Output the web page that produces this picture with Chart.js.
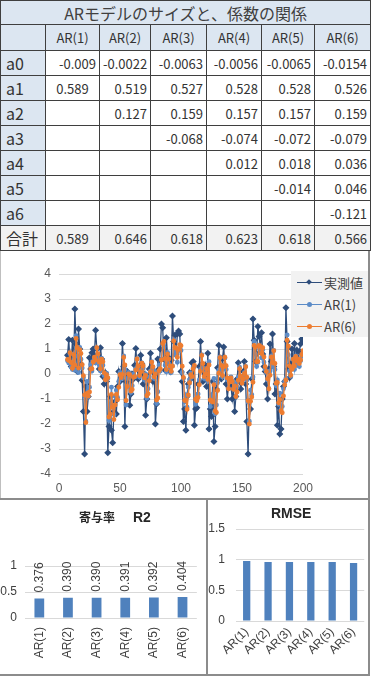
<!DOCTYPE html>
<html lang="ja">
<head>
<meta charset="UTF-8">
<title>ARモデルのサイズと、係数の関係</title>
<script src="https://cdn.jsdelivr.net/npm/chart.js"></script>
<style>
    html, body { margin: 0; padding: 0; background: #fff; }
    body { width: 371px; height: 676px; position: relative; overflow: hidden; }
    .abs { position: absolute; box-sizing: border-box; }
    #coefTable {
        position: absolute; left: 0; top: 0;
        width: 370px; border-collapse: collapse; table-layout: fixed;
        font-family: "Noto Sans CJK JP", sans-serif; color: #333;
    }
    #coefTable td {
        border: 1px solid #3f3f3f; padding: 0 3px; font-size: 13px;
        text-align: right; line-height: 1; white-space: nowrap; overflow: hidden;
    }
    #coefTable td.title { background: #dce6f1; text-align: center; font-size: 16px; color: #404040; }
    #coefTable td.head { background: #dce6f1; text-align: center; }
    #coefTable td.rowname { background: #dce6f1; text-align: left; padding-left: 5px; font-size: 16px; }
    #coefTable tr.total td { background: #f2f2f2; }
    #coefTable td.mid { text-align: center; }
    #legend {
        position: absolute; left: 291px; top: 271px; width: 77px; height: 66px;
        background: #f2f2f2; font-family: "Noto Sans CJK JP", sans-serif; font-size: 13px; color: #404040;
    }
    .item { position: absolute; left: 0; height: 22px; width: 77px; }
    .item .ln { position: absolute; left: 6px; top: 10px; width: 25px; height: 0; border-top: 1.5px solid; }
    .item .mk { position: absolute; }
    .item .tx { position: absolute; left: 33px; top: 2px; line-height: 18px; }
    .ctitle { position: absolute; font-family: "Liberation Sans", "Noto Sans CJK JP", sans-serif; font-weight: bold; color: #262626; white-space: pre; }
    canvas { position: absolute; }
</style>
</head>
<body>

<table id="coefTable"></table>

<div class="abs" style="left:0; top:251px; width:370px; height:248px; border-left:1px solid #bfbfbf; border-right:2px solid #8c8c8c;"></div>
<canvas id="lineChart" width="369" height="243" style="left:0; top:253px;"></canvas>
<div id="legend"></div>

<div class="abs" style="left:0; top:498px; width:208px; height:178px; border-top:2px solid #8c8c8c; border-bottom:2px solid #8c8c8c;"></div>
<div class="abs" style="left:206px; top:498px; width:164px; height:178px; border:2px solid #8c8c8c;"></div>
<canvas id="r2Chart" width="206" height="174" style="left:0; top:500px;"></canvas>
<canvas id="rmseChart" width="160" height="174" style="left:208px; top:500px;"></canvas>
<div class="ctitle" style="left:79px; top:506px; font-size:14px;"><span style="font-size:12px;">寄与率</span>　 R2</div>
<div class="ctitle" style="left:271px; top:505px; font-size:14px;">RMSE</div>

<script>
    // --- table data ---
    const tableTitle = "ARモデルのサイズと、係数の関係";
    const models = ["AR(1)", "AR(2)", "AR(3)", "AR(4)", "AR(5)", "AR(6)"];
    const coefNames = ["a0", "a1", "a2", "a3", "a4", "a5", "a6"];
    const coefA0 = ["-0.009", "-0.0022", "-0.0063", "-0.0056", "-0.0065", "-0.0154"];
    const coefA1 = ["0.589", "0.519", "0.527", "0.528", "0.528", "0.526"];
    const coefA2 = ["", "0.127", "0.159", "0.157", "0.157", "0.159"];
    const coefA3 = ["", "", "-0.068", "-0.074", "-0.072", "-0.079"];
    const coefA4 = ["", "", "", "0.012", "0.018", "0.036"];
    const coefA5 = ["", "", "", "", "-0.014", "0.046"];
    const coefA6 = ["", "", "", "", "", "-0.121"];
    const totalLabel = "合計";
    const coefTotals = ["0.589", "0.646", "0.618", "0.623", "0.618", "0.566"];

    // --- time series (t = 7 .. 200) ---
    const firstT = 7;
    const actual = [
        0.75, 1.38, 0.45, 0.3, 1.35, 0.25, 2.6, 1.2, 0.1, 1.8,
        1.0, 0.4, -0.25, -1.5, -3.2, -0.5, -1.5, -0.9, 0.65, 0.2,
        0.85, 1.0, 0.75, 1.75, 1.0, 0.6, 0.2, 1.05, 0.6, -0.1,
        -0.4, 0.05, -0.3, -3.15, -2.1, -0.9, -2.25, -2.75, -1.5, -1.1,
        -1.6, -0.5, 0.1, -0.3, 0.05, 1.22, 0.3, -2.1, -0.3, 0.1,
        -0.1, -1.25, -0.8, 0.0, -0.2, 0.35, 1.02, 0.3, -0.2, 0.2,
        0.75, 0.4, -0.4, 0.0, -1.65, -1.0, -0.2, 0.2, 0.83, 0.3,
        -0.3, 0.1, -2.0, -1.2, 0.6, 0.2, 1.0, 2.0, 1.85, 0.6,
        0.15, 1.45, 0.7, 0.4, 0.1, 0.55, 2.32, 1.3, 1.55, 0.8,
        1.6, 1.72, 1.6, 0.1, -0.3, -1.9, -1.4, -2.25, -0.9, -0.4,
        0.05, -0.2, 0.45, 0.5, -2.05, -1.4, -1.35, -0.4, 0.3, 1.3,
        0.4, -0.3, 0.1, 0.35, -0.5, 0.83, -2.2, -1.4, -1.7, -0.3,
        -2.7, -2.1, -0.6, 0.25, 1.15, 0.3, -0.2, 0.6, 1.08, 0.3,
        -0.4, -1.0, -0.3, -0.2, -0.5, -1.0, -0.6, -1.5, -0.9, -0.2,
        0.45, -0.3, -0.6, -0.2, 0.1, 0.5, -0.4, -1.9, -3.2, -1.1,
        -1.4, -0.2, 2.2, 1.35, 0.5, 0.8, 1.9, 1.5, 1.1, 1.65,
        0.8, 0.3, 0.1, -0.4, -1.0, 0.2, 1.2, 0.5, 1.6, 0.3,
        -0.8, -0.4, -2.05, -1.3, -2.4, -2.2, -1.0, -0.5, -0.3, 2.65,
        1.3, 0.2, -0.15, 0.4, 1.0, 0.3, 1.22, 0.6, 0.95, 0.5,
        0.9, 1.2, 1.4, 1.35
    ];
    const predAR1 = [
        0.53, 0.44, 0.81, 0.27, 0.18, 0.80, 0.15, 1.53, 0.71, 0.06,
        1.06, 0.59, 0.24, -0.15, -0.89, -1.89, -0.30, -0.89, -0.53, 0.38,
        0.12, 0.50, 0.59, 0.44, 1.03, 0.59, 0.35, 0.12, 0.62, 0.35,
        -0.06, -0.24, 0.03, -0.18, -1.86, -1.24, -0.53, -1.33, -1.62, -0.89,
        -0.65, -0.94, -0.30, 0.06, -0.18, 0.03, 0.72, 0.18, -1.24, -0.18,
        0.06, -0.06, -0.74, -0.47, 0.00, -0.12, 0.21, 0.60, 0.18, -0.12,
        0.12, 0.44, 0.24, -0.24, 0.00, -0.97, -0.59, -0.12, 0.12, 0.49,
        0.18, -0.18, 0.06, -1.18, -0.71, 0.35, 0.12, 0.59, 1.18, 1.09,
        0.35, 0.09, 0.86, 0.41, 0.24, 0.06, 0.32, 1.37, 0.77, 0.91,
        0.47, 0.94, 1.01, 0.94, 0.06, -0.18, -1.12, -0.83, -1.33, -0.53,
        -0.24, 0.03, -0.12, 0.27, 0.30, -1.21, -0.83, -0.80, -0.24, 0.18,
        0.77, 0.24, -0.18, 0.06, 0.21, -0.30, 0.49, -1.30, -0.83, -1.00,
        -0.18, -1.59, -1.24, -0.35, 0.15, 0.68, 0.18, -0.12, 0.35, 0.64,
        0.18, -0.24, -0.59, -0.18, -0.12, -0.30, -0.59, -0.35, -0.89, -0.53,
        -0.12, 0.27, -0.18, -0.35, -0.12, 0.06, 0.30, -0.24, -1.12, -1.89,
        -0.65, -0.83, -0.12, 1.30, 0.80, 0.30, 0.47, 1.12, 0.89, 0.65,
        0.97, 0.47, 0.18, 0.06, -0.24, -0.59, 0.12, 0.71, 0.30, 0.94,
        0.18, -0.47, -0.24, -1.21, -0.77, -1.42, -1.30, -0.59, -0.30, -0.18,
        1.56, 0.77, 0.12, -0.09, 0.24, 0.59, 0.18, 0.72, 0.35, 0.56,
        0.30, 0.53, 0.71, 0.83
    ];
    const predAR6 = [
        0.58, 0.54, 0.85, 0.46, 0.23, 0.77, 0.35, 1.42, 1.06, 0.24,
        0.97, 0.82, 0.37, -0.07, -0.84, -1.94, -0.78, -0.88, -0.72, 0.20,
        0.21, 0.48, 0.67, 0.56, 1.05, 0.81, 0.48, 0.21, 0.59, 0.49,
        0.05, -0.23, -0.03, -0.15, -1.72, -1.61, -0.82, -1.33, -1.82, -1.24,
        -0.82, -1.03, -0.53, -0.03, -0.14, -0.02, 0.66, 0.36, -1.06, -0.50,
        0.00, -0.03, -0.68, -0.62, -0.13, -0.11, 0.16, 0.60, 0.32, -0.06,
        0.08, 0.43, 0.33, -0.15, -0.06, -0.87, -0.79, -0.27, 0.08, 0.47,
        0.29, -0.11, 0.00, -1.04, -0.96, 0.13, 0.21, 0.56, 1.22, 1.30,
        0.62, 0.18, 0.79, 0.60, 0.32, 0.11, 0.31, 1.32, 1.06, 1.03,
        0.67, 0.98, 1.17, 1.13, 0.31, -0.14, -1.06, -1.04, -1.41, -0.84,
        -0.35, -0.03, -0.10, 0.21, 0.34, -1.01, -1.07, -0.94, -0.43, 0.10,
        0.74, 0.42, -0.10, 0.00, 0.21, -0.21, 0.36, -1.04, -1.09, -1.12,
        -0.43, -1.48, -1.54, -0.66, 0.03, 0.65, 0.34, -0.06, 0.29, 0.67,
        0.33, -0.16, -0.59, -0.32, -0.16, -0.30, -0.61, -0.48, -0.90, -0.72,
        -0.25, 0.21, -0.09, -0.37, -0.21, 0.02, 0.29, -0.13, -1.07, -2.00,
        -1.09, -0.92, -0.33, 1.14, 1.07, 0.49, 0.50, 1.14, 1.10, 0.82,
        1.05, 0.68, 0.29, 0.10, -0.19, -0.59, -0.05, 0.67, 0.46, 0.93,
        0.42, -0.37, -0.34, -1.15, -1.02, -1.48, -1.55, -0.88, -0.43, -0.24,
        1.35, 1.11, 0.32, -0.05, 0.19, 0.59, 0.32, 0.70, 0.52, 0.60,
        0.42, 0.56, 0.78, 0.93
    ];

    // --- model fit ---
    const r2Values = [0.376, 0.390, 0.390, 0.391, 0.392, 0.404];
    const rmseValues = [0.978, 0.961, 0.961, 0.960, 0.960, 0.945];

    // build table
    const coefRows = [coefA0, coefA1, coefA2, coefA3, coefA4, coefA5, coefA6];
    const colWidths = [45, 54, 51, 56, 55, 53, 56];
    let html = "<colgroup>" + colWidths.map(w => `<col style="width:${w}px">`).join("") + "</colgroup>";
    html += `<tr style="height:24px"><td class="title" colspan="7">${tableTitle}</td></tr>`;
    html += `<tr style="height:26px"><td class="head"></td>` + models.map(m => `<td class="head">${m}</td>`).join("") + "</tr>";
    coefRows.forEach((row, i) => {
        html += `<tr style="height:25px"><td class="rowname">${coefNames[i]}</td>` +
            row.map((v, j) => `<td class="${j === 0 && i === 1 ? "mid" : ""}">${v}</td>`).join("") + "</tr>";
    });
    html += `<tr class="total" style="height:25px"><td class="rowname">${totalLabel}</td>` +
        coefTotals.map((v, j) => `<td class="${j === 0 ? "mid" : ""}">${v}</td>`).join("") + "</tr>";
    document.getElementById("coefTable").innerHTML = html;

    Chart.defaults.font.family = '"Liberation Sans", "Noto Sans CJK JP", sans-serif';
    Chart.defaults.color = "#595959";

    const toXY = arr => arr.map((v, i) => ({ x: firstT + i, y: v }));

    // line chart
    const lineDatasets = [
        { label: "実測値", data: toXY(actual), borderColor: "#2e4d7b", backgroundColor: "#2e4d7b",
          borderWidth: 1.3, pointStyle: "rectRot", pointRadius: 2.6, order: 3 },
        { label: "AR(1)", data: toXY(predAR1), borderColor: "#5b8bc7", backgroundColor: "#5b8bc7",
          borderWidth: 1.3, pointStyle: "circle", pointRadius: 1.8, order: 2 },
        { label: "AR(6)", data: toXY(predAR6), borderColor: "#ed7d31", backgroundColor: "#ed7d31",
          borderWidth: 1.3, pointStyle: "circle", pointRadius: 1.8, order: 1 }
    ];
    new Chart(document.getElementById("lineChart"), {
        type: "line",
        data: { datasets: lineDatasets },
        options: {
            responsive: false, animation: false, devicePixelRatio: 1,
            layout: { padding: { left: 0, top: 21, right: 66, bottom: 0 } },
            plugins: { legend: { display: false }, tooltip: { enabled: false } },
            elements: { line: { tension: 0 }, point: { borderWidth: 0 } },
            scales: {
                x: {
                    type: "linear", min: 0, max: 200,
                    ticks: { stepSize: 50, padding: 7, font: { size: 12 } },
                    grid: { display: false, drawTicks: false }, border: { display: false },
                    afterFit: s => { s.height = 22; }
                },
                y: {
                    min: -4, max: 4,
                    ticks: { stepSize: 1, padding: 8, font: { size: 12 } },
                    grid: { color: "#d9d9d9", drawTicks: false }, border: { display: false },
                    afterFit: s => { s.width = 59; }
                }
            }
        }
    });

    // html legend built from the datasets
    const legend = document.getElementById("legend");
    lineDatasets.forEach((ds, i) => {
        const item = document.createElement("div");
        item.className = "item";
        item.style.top = (1 + i * 22) + "px";
        const mk = ds.pointStyle === "rectRot"
            ? `<div class="mk" style="left:16px;top:8px;width:4px;height:4px;background:${ds.borderColor};transform:rotate(45deg)"></div>`
            : `<div class="mk" style="left:16px;top:8px;width:5px;height:5px;border-radius:50%;background:${ds.borderColor}"></div>`;
        item.innerHTML = `<div class="ln" style="border-color:${ds.borderColor}"></div>${mk}<div class="tx">${ds.label}</div>`;
        legend.appendChild(item);
    });

    // rotated value labels above the R2 bars
    const barValueLabels = {
        id: "barValueLabels",
        afterDatasetsDraw(chart) {
            const ctx = chart.ctx;
            const meta = chart.getDatasetMeta(0);
            ctx.save();
            ctx.font = '12px "Liberation Sans", sans-serif';
            ctx.fillStyle = "#404040";
            ctx.textAlign = "left";
            ctx.textBaseline = "middle";
            meta.data.forEach((bar, i) => {
                ctx.save();
                ctx.translate(bar.x, bar.y - 6);
                ctx.rotate(-Math.PI / 2);
                ctx.fillText(r2Values[i].toFixed(3), 0, 0);
                ctx.restore();
            });
            ctx.restore();
        }
    };

    function barOptions(pad, yMax, yWidth, xHeight, rot, xPad, yPad) {
        return {
            responsive: false, animation: false, devicePixelRatio: 1,
            layout: { padding: pad },
            plugins: { legend: { display: false }, tooltip: { enabled: false } },
            scales: {
                x: {
                    ticks: { minRotation: rot, maxRotation: rot, autoSkip: false, padding: xPad, font: { size: 12 }, color: "#404040" },
                    grid: { display: false, drawTicks: false }, border: { display: false },
                    afterFit: s => { s.height = xHeight; }
                },
                y: {
                    min: 0, max: yMax,
                    ticks: { stepSize: 0.5, padding: yPad, font: { size: 12 }, color: "#404040", callback: v => String(v) },
                    grid: { color: "#d9d9d9", drawTicks: false }, border: { display: false },
                    afterFit: s => { s.width = yWidth; }
                }
            }
        };
    }

    new Chart(document.getElementById("r2Chart"), {
        type: "bar",
        data: {
            labels: models,
            datasets: [{ data: r2Values, backgroundColor: "#4f81bd", barPercentage: 0.34, categoryPercentage: 1 }]
        },
        options: barOptions({ left: 0, top: 66, right: 1, bottom: 0 }, 1, 25, 56, 90, 9, 8),
        plugins: [barValueLabels]
    });

    new Chart(document.getElementById("rmseChart"), {
        type: "bar",
        data: {
            labels: models,
            datasets: [{ data: rmseValues, backgroundColor: "#4f81bd", barPercentage: 0.34, categoryPercentage: 1 }]
        },
        options: barOptions({ left: 0, top: 29, right: 3, bottom: 0 }, 1.5, 28, 53, 45, 4, 11)
    });
</script>
</body>
</html>
